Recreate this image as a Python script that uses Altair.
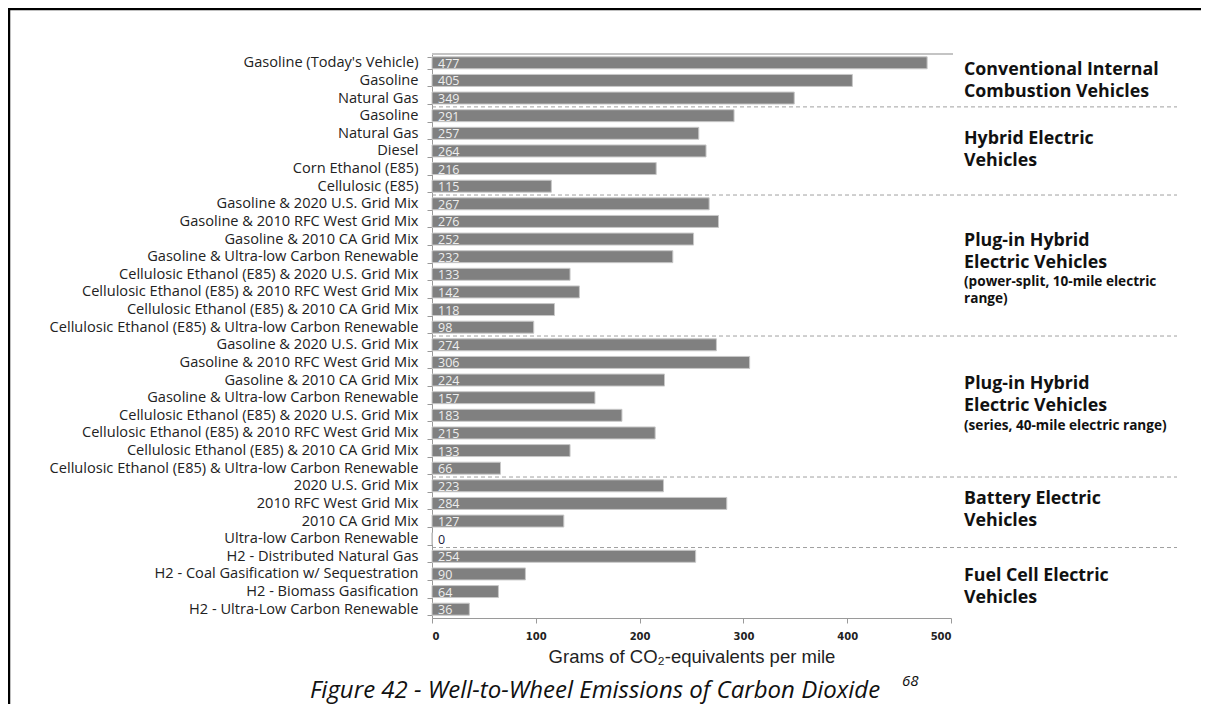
import altair as alt
import pandas as pd

row_labels = [
    "Gasoline (Today's Vehicle)", "Gasoline", "Natural Gas",
    "Gasoline", "Natural Gas", "Diesel", "Corn Ethanol (E85)", "Cellulosic (E85)",
    "Gasoline & 2020 U.S. Grid Mix", "Gasoline & 2010 RFC West Grid Mix",
    "Gasoline & 2010 CA Grid Mix", "Gasoline & Ultra-low Carbon Renewable",
    "Cellulosic Ethanol (E85) & 2020 U.S. Grid Mix",
    "Cellulosic Ethanol (E85) & 2010 RFC West Grid Mix",
    "Cellulosic Ethanol (E85) & 2010 CA Grid Mix",
    "Cellulosic Ethanol (E85) & Ultra-low Carbon Renewable",
    "Gasoline & 2020 U.S. Grid Mix", "Gasoline & 2010 RFC West Grid Mix",
    "Gasoline & 2010 CA Grid Mix", "Gasoline & Ultra-low Carbon Renewable",
    "Cellulosic Ethanol (E85) & 2020 U.S. Grid Mix",
    "Cellulosic Ethanol (E85) & 2010 RFC West Grid Mix",
    "Cellulosic Ethanol (E85) & 2010 CA Grid Mix",
    "Cellulosic Ethanol (E85) & Ultra-low Carbon Renewable",
    "2020 U.S. Grid Mix", "2010 RFC West Grid Mix", "2010 CA Grid Mix",
    "Ultra-low Carbon Renewable",
    "H2 - Distributed Natural Gas", "H2 - Coal Gasification w/ Sequestration",
    "H2 - Biomass Gasification", "H2 - Ultra-Low Carbon Renewable",
]
values = [477, 405, 349, 291, 257, 264, 216, 115,
          267, 276, 252, 232, 133, 142, 118, 98,
          274, 306, 224, 157, 183, 215, 133, 66,
          223, 284, 127, 0, 254, 90, 64, 36]

group_sizes = [3, 5, 8, 8, 4, 4]
group_titles = ["Conventional Internal\nCombustion Vehicles", "Hybrid Electric\nVehicles",
                "Plug-in Hybrid\nElectric Vehicles", "Plug-in Hybrid\nElectric Vehicles",
                "Battery Electric\nVehicles", "Fuel Cell Electric\nVehicles"]
title_rows = [1, 5, 11, 19, 25, 29]
title_dy = [-10, -12, -16, -14, -4, 2]
note_texts = ["(power-split, 10-mile electric\nrange)", "(series, 40-mile electric range)"]
note_rows = [13, 21]
note_dy = [-10, -7]

caption = "Figure 42 - Well-to-Wheel Emissions of Carbon Dioxide"
caption_ref = "68"
x_title = "Grams of CO\u2082-equivalents per mile"

keys = [f"{i:02d}|{l}" for i, l in enumerate(row_labels)]
bars_df = pd.DataFrame({"key": keys, "value": values})

sep_rows = []
acc = 0
for s in group_sizes[:-1]:
    acc += s
    sep_rows.append(keys[acc])
sep_df = pd.DataFrame({"key": sep_rows})

W, H = 519, 564
ysc = alt.Scale(paddingInner=0.32, paddingOuter=0.16)

y_enc = alt.Y("key:N", sort=None, scale=ysc, title=None,
              axis=alt.Axis(labelExpr="split(datum.label, '|')[1]", tickBand="extent",
                            tickSize=5, labelPadding=9, labelFont="Open Sans", labelFontSize=14.6,
                            labelColor="#222222", domainColor="#9a9a9a", tickColor="#9a9a9a",
                            labelLimit=0))
x_enc = alt.X("value:Q", scale=alt.Scale(domain=[0, 500], nice=False),
              axis=alt.Axis(values=[0, 100, 200, 300, 400, 500], grid=False, tickSize=5,
                            labelFont="DejaVu Sans", labelFontWeight="bold", labelFontSize=10,
                            labelColor="#222222", labelPadding=8, domainColor="#9a9a9a",
                            tickColor="#9a9a9a", title=x_title, titleFont="Liberation Sans",
                            titleFontSize=18.5, titleFontWeight="normal", titleColor="#222222",
                            titlePadding=6))

bars = alt.Chart(bars_df).mark_bar(color="#808080", stroke="#c8c8c8", strokeWidth=1).encode(
    x=x_enc, y=y_enc)

vals = alt.Chart(bars_df).mark_text(align="left", baseline="middle", dx=6, dy=1,
                                    font="Open Sans", fontSize=12.5).encode(
    x=alt.datum(0), y=alt.Y("key:N", sort=None), text="value:Q",
    color=alt.condition("datum.value == 0", alt.value("#1a1a3a"), alt.value("#eeeeee")))

seps = alt.Chart(sep_df).mark_rule(color="#a0a0a0", strokeDash=[4, 3], strokeWidth=1,
                                   yOffset=-2.8).encode(
    y=alt.Y("key:N", sort=None, bandPosition=0), x=alt.value(0), x2=alt.value(745))

top_line = alt.Chart(bars_df).mark_rule(color="#c4c4c4", strokeWidth=2).encode(
    y=alt.value(0), x=alt.value(0), x2=alt.value(W + 2))

layers = [bars, vals, seps, top_line]

for t, r, d in zip(group_titles, title_rows, title_dy):
    df = pd.DataFrame({"key": [keys[r]], "text": [t]})
    layers.append(alt.Chart(df).mark_text(align="left", baseline="middle", font="Open Sans",
                                          fontWeight="bold", fontSize=17.8, lineHeight=22,
                                          color="#111111", lineBreak="\n", dy=d).encode(
        y=alt.Y("key:N", sort=None), x=alt.value(532), text="text:N"))

for t, r, d in zip(note_texts, note_rows, note_dy):
    df = pd.DataFrame({"key": [keys[r]], "text": [t]})
    layers.append(alt.Chart(df).mark_text(align="left", baseline="middle", font="Open Sans",
                                          fontWeight="bold", fontSize=13.6, lineHeight=17,
                                          color="#111111", lineBreak="\n", dy=d).encode(
        y=alt.Y("key:N", sort=None), x=alt.value(532), text="text:N"))

cap_df = pd.DataFrame({"t": [caption], "s": [caption_ref]})
layers.append(alt.Chart(cap_df).mark_text(align="center", baseline="alphabetic", font="Open Sans",
                                          fontStyle="italic", fontSize=24, color="#111111").encode(
    text="t:N", x=alt.value(163), y=alt.value(644)))
layers.append(alt.Chart(cap_df).mark_text(align="left", baseline="alphabetic", font="Open Sans",
                                          fontStyle="italic", fontSize=15, color="#111111").encode(
    text="s:N", x=alt.value(470), y=alt.value(632)))

layers.append(alt.Chart(cap_df).mark_rule(color="#000000", strokeWidth=2.5).encode(
    x=alt.value(-423), y=alt.value(-46), y2=alt.value(660)))
layers.append(alt.Chart(cap_df).mark_rule(color="#000000", strokeWidth=2.5).encode(
    y=alt.value(-45), x=alt.value(-424), x2=alt.value(790)))

chart = alt.layer(*layers).properties(
    width=W, height=H,
    background="white",
    autosize=alt.AutoSizeParams(type="none"),
    padding={"left": 424, "top": 46, "right": 250, "bottom": 86},
).configure_view(stroke=None)

chart.save("out.html", embed_options={"renderer": "svg", "actions": False})
